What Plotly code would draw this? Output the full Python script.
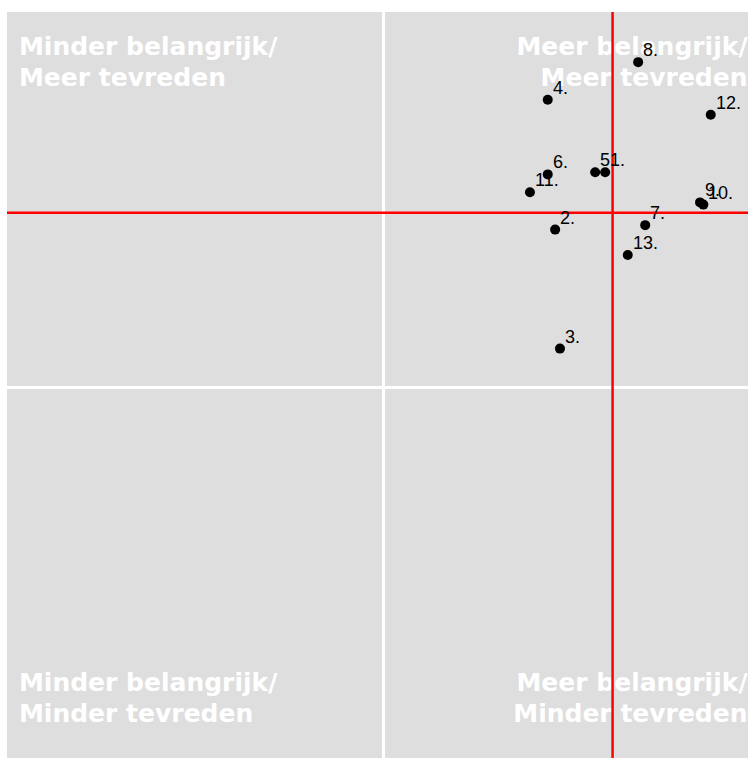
import plotly.graph_objects as go

# items: importance (x) vs satisfaction (y), centred scores
labels = ["1.", "2.", "3.", "4.", "5.", "6.", "7.", "8.", "9.", "10.", "11.", "12.", "13."]
belang = [0.597, 0.462, 0.475, 0.442, 0.570, 0.442, 0.705, 0.686, 0.853, 0.862, 0.394, 0.882, 0.658]
tevreden = [0.576, 0.422, 0.103, 0.770, 0.576, 0.570, 0.434, 0.871, 0.495, 0.489, 0.522, 0.730, 0.354]

ref_x = 0.617
ref_y = 0.467

# quadrant captions, one entry per line
quadrant_lines = [
    "Minder belangrijk/", "Meer tevreden",
    "Meer belangrijk/", "Meer tevreden",
    "Minder belangrijk/", "Minder tevreden",
    "Meer belangrijk/", "Minder tevreden",
]

x_range = [-1.0175, 0.9825]
y_range = [-0.9946, 1.0054]

# caption anchors inside the panel corners (line centres)
x_lo, x_hi = -0.9852, 0.9812
y_top1, y_top2 = 0.9062, 0.8231
y_bot1, y_bot2 = -0.7989, -0.8820

font = "Liberation Sans, Arial, Helvetica, sans-serif"
caption_font = "DejaVu Sans, Verdana, sans-serif"

fig = go.Figure()

# captions first, so lines and points draw on top of them
fig.add_trace(go.Scatter(
    x=[x_lo, x_lo, x_hi, x_hi, x_lo, x_lo, x_hi, x_hi],
    y=[y_top1, y_top2, y_top1, y_top2, y_bot1, y_bot2, y_bot1, y_bot2],
    mode="text",
    text=["<b>" + t + "</b>" for t in quadrant_lines],
    textposition=["middle right", "middle right", "middle left", "middle left"] * 2,
    textfont=dict(family=caption_font, size=25, color="white"),
    hoverinfo="skip",
    showlegend=False,
))

# reference lines
fig.add_trace(go.Scatter(
    x=[ref_x, ref_x], y=y_range, mode="lines",
    line=dict(color="red", width=2.5), hoverinfo="skip", showlegend=False,
))
fig.add_trace(go.Scatter(
    x=x_range, y=[ref_y, ref_y], mode="lines",
    line=dict(color="red", width=2.5), hoverinfo="skip", showlegend=False,
))

# items
fig.add_trace(go.Scatter(
    x=belang, y=tevreden,
    mode="markers",
    marker=dict(color="black", size=10),
    showlegend=False,
))

for lab, x, y in zip(labels, belang, tevreden):
    fig.add_annotation(
        x=x, y=y, text=lab, showarrow=False,
        xanchor="left", yanchor="middle", xshift=3, yshift=12,
        font=dict(family=font, size=18, color="black"),
    )

fig.update_xaxes(
    range=x_range, tickvals=[0], showticklabels=False, ticks="",
    showgrid=True, gridcolor="white", gridwidth=2.5, zeroline=False, showline=False,
)
fig.update_yaxes(
    range=y_range, tickvals=[0], showticklabels=False, ticks="",
    showgrid=True, gridcolor="white", gridwidth=2.5, zeroline=False, showline=False,
)

fig.update_layout(
    width=750, height=758,
    margin=dict(l=7, r=2, t=12, b=0),
    plot_bgcolor="#dedede",
    paper_bgcolor="white",
    showlegend=False,
)

fig.write_html("out.html", config={"displayModeBar": False},
               post_script="document.body.style.margin='0';")
